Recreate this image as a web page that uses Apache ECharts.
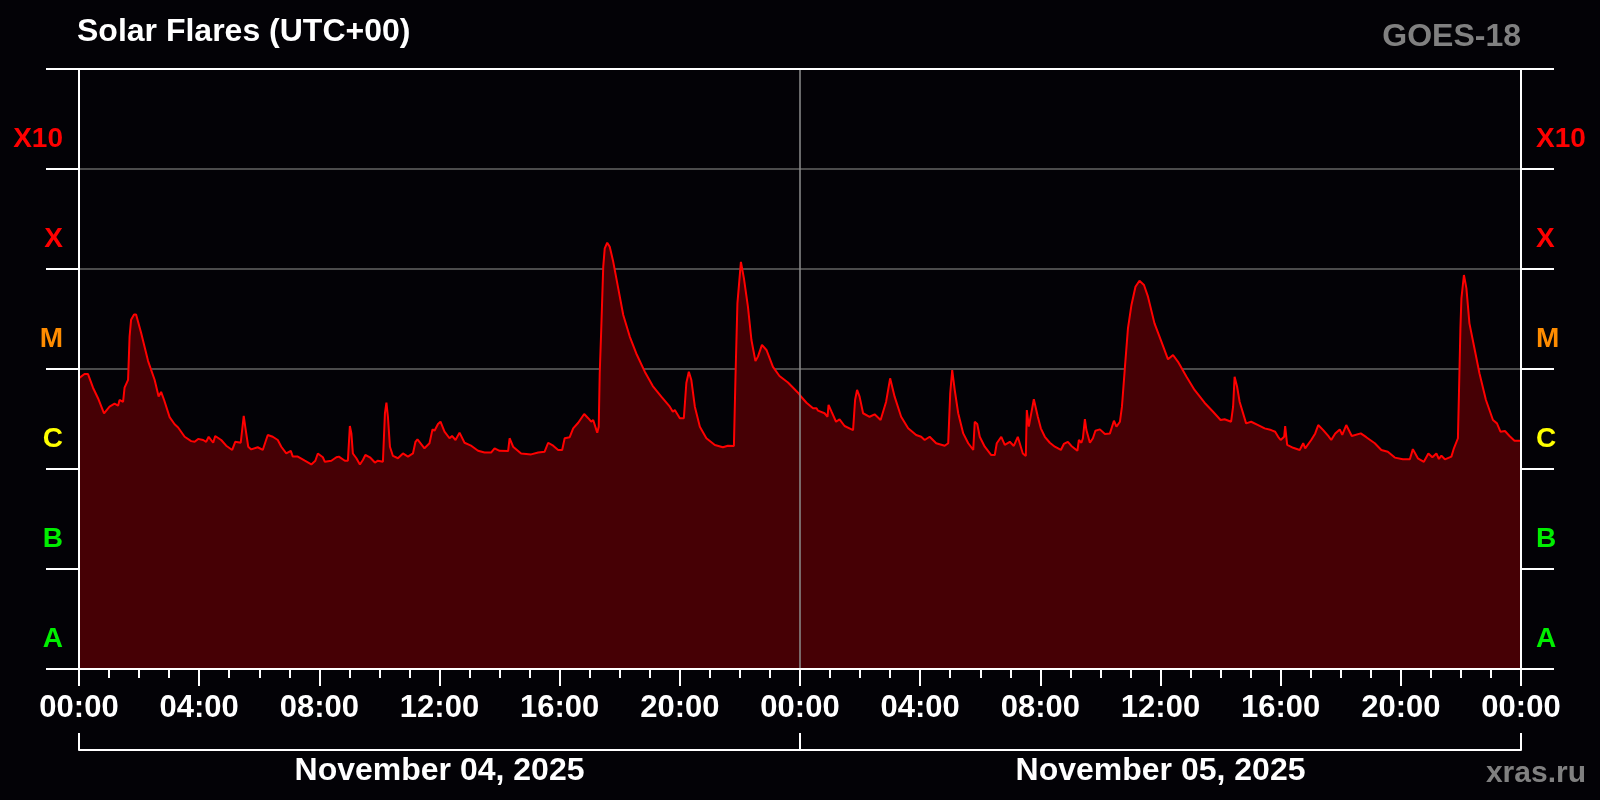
<!DOCTYPE html>
<html>
<head>
<meta charset="utf-8">
<title>Solar Flares</title>
<script src="https://cdn.jsdelivr.net/npm/echarts@6/dist/echarts.min.js"></script>
<style>
html,body{margin:0;padding:0;background:#030206;}
#chart{width:1600px;height:800px;}
</style>
</head>
<body>
<div id="chart"></div>
<script>
// minutes since 2025-11-04 00:00 UTC
const minutes = [0,11,18,28,38,50,61,71,78,81,88,91,98,101,104,110,114,124,138,151,159,164,170,181,191,198,201,211,224,231,238,248,254,259,268,272,284,294,306,312,323,329,332,338,344,357,367,377,387,397,404,414,423,427,437,451,464,472,477,487,491,504,514,519,531,537,541,544,547,554,561,567,572,581,591,597,607,611,614,617,621,627,637,647,657,667,672,676,690,700,706,710,717,722,730,740,745,752,760,770,784,797,810,823,830,840,857,860,867,883,903,917,930,937,947,957,965,970,980,987,997,1009,1017,1023,1027,1035,1038,1040,1043,1047,1050,1055,1060,1067,1077,1087,1100,1113,1130,1146,1163,1180,1186,1190,1200,1208,1213,1218,1223,1230,1240,1253,1270,1286,1296,1308,1311,1315,1322,1328,1336,1343,1351,1356,1364,1373,1386,1399,1416,1436,1441,1453,1466,1473,1476,1489,1495,1497,1503,1512,1519,1529,1546,1550,1554,1559,1566,1579,1589,1601,1612,1620,1629,1642,1656,1672,1682,1684,1689,1699,1712,1729,1736,1740,1744,1749,1756,1766,1776,1786,1789,1794,1799,1809,1822,1829,1833,1842,1849,1859,1867,1875,1885,1891,1893,1897,1907,1915,1921,1929,1939,1949,1961,1967,1975,1982,1994,1997,2002,2005,2009,2012,2019,2025,2030,2039,2049,2059,2062,2067,2072,2079,2083,2089,2095,2102,2110,2118,2127,2135,2148,2162,2175,2185,2195,2212,2228,2248,2265,2280,2288,2301,2305,2308,2313,2318,2321,2331,2341,2355,2368,2381,2389,2395,2400,2407,2409,2413,2425,2438,2445,2449,2461,2469,2475,2485,2495,2501,2509,2518,2523,2531,2542,2560,2571,2588,2601,2614,2628,2644,2658,2664,2674,2686,2695,2703,2711,2716,2721,2728,2741,2746,2754,2756,2759,2761,2766,2771,2777,2787,2797,2810,2824,2832,2839,2848,2857,2867,2876,2880];
// X-ray flux, W/m^2
const flux = [8.1e-6,8.9e-6,8.9e-6,6.5e-6,5.1e-6,3.6e-6,4.2e-6,4.5e-6,4.3e-6,4.9e-6,4.7e-6,6.5e-6,7.8e-6,2.1e-5,3.1e-5,3.5e-5,3.5e-5,2.3e-5,1.2e-5,7.8e-6,5.3e-6,5.9e-6,4.9e-6,3.3e-6,2.8e-6,2.6e-6,2.7e-6,2.1e-6,1.9e-6,1.87e-6,2.0e-6,1.95e-6,1.87e-6,2.1e-6,1.83e-6,2.14e-6,1.95e-6,1.71e-6,1.55e-6,1.87e-6,1.83e-6,3.4e-6,2.65e-6,1.67e-6,1.57e-6,1.65e-6,1.55e-6,2.19e-6,2.1e-6,1.95e-6,1.67e-6,1.43e-6,1.52e-6,1.33e-6,1.33e-6,1.21e-6,1.11e-6,1.21e-6,1.43e-6,1.31e-6,1.18e-6,1.21e-6,1.31e-6,1.33e-6,1.21e-6,1.21e-6,2.69e-6,2.27e-6,1.43e-6,1.28e-6,1.11e-6,1.23e-6,1.38e-6,1.31e-6,1.16e-6,1.21e-6,1.18e-6,3.61e-6,4.6e-6,3.33e-6,1.67e-6,1.35e-6,1.28e-6,1.43e-6,1.33e-6,1.43e-6,1.87e-6,1.98e-6,1.61e-6,1.81e-6,2.49e-6,2.41e-6,2.82e-6,2.97e-6,2.36e-6,2.03e-6,2.14e-6,1.95e-6,2.31e-6,1.83e-6,1.7e-6,1.52e-6,1.46e-6,1.46e-6,1.61e-6,1.52e-6,1.51e-6,2.03e-6,1.67e-6,1.43e-6,1.4e-6,1.46e-6,1.49e-6,1.83e-6,1.71e-6,1.55e-6,1.55e-6,2.03e-6,2.08e-6,2.55e-6,2.9e-6,3.55e-6,3.22e-6,2.97e-6,3.09e-6,2.31e-6,2.65e-6,9.06e-6,2.45e-5,1.05e-4,1.61e-4,1.83e-4,1.67e-4,1.18e-4,6.41e-5,3.47e-5,2.11e-5,1.43e-5,9.4e-6,6.76e-6,5.29e-6,4.2e-6,3.74e-6,3.89e-6,3.22e-6,3.22e-6,7.24e-6,9.4e-6,7.76e-6,4.2e-6,2.65e-6,2.03e-6,1.74e-6,1.65e-6,1.71e-6,1.7e-6,7.76e-6,4.54e-5,1.18e-4,8.07e-5,4.2e-5,1.95e-5,1.2e-5,1.33e-5,1.74e-5,1.55e-5,1.05e-5,8.51e-6,7.34e-6,5.79e-6,5.37e-6,4.6e-6,4.05e-6,4.05e-6,3.83e-6,3.61e-6,3.33e-6,4.37e-6,3.74e-6,2.97e-6,3.14e-6,2.69e-6,2.45e-6,4.9e-6,6.17e-6,5.29e-6,3.61e-6,3.33e-6,3.52e-6,3.09e-6,4.71e-6,8.07e-6,5.29e-6,3.33e-6,2.55e-6,2.19e-6,2.1e-6,2.19e-6,1.95e-6,2.1e-6,1.81e-6,1.71e-6,1.81e-6,5.71e-6,9.77e-6,6.17e-6,3.61e-6,2.27e-6,1.81e-6,1.55e-6,2.97e-6,2.82e-6,2.1e-6,1.67e-6,1.38e-6,1.38e-6,1.81e-6,2.1e-6,1.74e-6,1.87e-6,1.7e-6,2.1e-6,1.43e-6,1.35e-6,3.89e-6,2.65e-6,4.98e-6,3.33e-6,2.55e-6,2.1e-6,1.83e-6,1.67e-6,1.55e-6,1.78e-6,1.87e-6,1.7e-6,1.52e-6,1.95e-6,1.83e-6,2.03e-6,3.16e-6,2.45e-6,1.83e-6,2.03e-6,2.41e-6,2.49e-6,2.24e-6,2.27e-6,2.21e-6,3.04e-6,2.65e-6,2.97e-6,4.2e-6,1.05e-5,2.55e-5,4.37e-5,6.65e-5,7.64e-5,6.92e-5,5.29e-5,2.86e-5,1.87e-5,1.25e-5,1.38e-5,1.18e-5,8.37e-6,6.17e-6,4.6e-6,3.74e-6,3.09e-6,3.14e-6,2.97e-6,4.2e-6,8.37e-6,6.65e-6,4.71e-6,4.9e-6,2.86e-6,2.97e-6,2.75e-6,2.55e-6,2.45e-6,2.36e-6,2.1e-6,1.95e-6,2.1e-6,2.69e-6,1.74e-6,1.63e-6,1.55e-6,1.81e-6,1.61e-6,1.95e-6,2.27e-6,2.75e-6,2.45e-6,2.14e-6,1.95e-6,2.27e-6,2.49e-6,2.19e-6,2.75e-6,2.14e-6,2.27e-6,2.08e-6,1.81e-6,1.55e-6,1.49e-6,1.3e-6,1.25e-6,1.25e-6,1.58e-6,1.28e-6,1.18e-6,1.43e-6,1.31e-6,1.43e-6,1.26e-6,1.36e-6,1.25e-6,1.33e-6,1.61e-6,2.03e-6,5.5e-6,2.55e-5,5.09e-5,8.71e-5,6.41e-5,2.86e-5,1.61e-5,9.06e-6,4.9e-6,3.09e-6,2.86e-6,2.36e-6,2.4e-6,2.14e-6,1.92e-6,1.92e-6,1.92e-6];

const flareClasses = ['A','B','C','M','X','X10'];
const classColors = ['#00ee00','#00ee00','#ffff00','#ff8c00','#ff0000','#ff0000'];
const timeTickLabels = ['00:00','04:00','08:00','12:00','16:00','20:00','00:00','04:00','08:00','12:00','16:00','20:00','00:00'];
const dayLabels = ['November 04, 2025','November 05, 2025'];
const dayBoundary = 1440;

const FONT = 'Liberation Sans, Arial, Helvetica, sans-serif';
const seriesData = minutes.map((m, i) => [m, flux[i]]);

const chart = echarts.init(document.getElementById('chart'), null, {renderer: 'canvas'});

function classAxis(pos, margin) {
  return {
    type: 'category', position: pos, data: flareClasses, boundaryGap: true, z: 5,
    axisLine: {show: true, onZero: false, lineStyle: {color: '#ffffff', width: 2}},
    axisTick: {show: true, interval: 0, length: 33, lineStyle: {color: '#ffffff', width: 2}},
    axisLabel: {
      interval: 0, margin: margin, fontSize: 28, fontWeight: 'bold', fontFamily: FONT,
      verticalAlign: 'top', lineHeight: 40,
      color: function (v, i) { return classColors[flareClasses.indexOf(v)]; }
    },
    splitLine: {show: false}
  };
}

const option = {
  backgroundColor: '#030206',
  animation: false,
  textStyle: {fontFamily: FONT},
  title: [
    {text: 'Solar Flares (UTC+00)', left: 77, top: 16, padding: 0,
     textStyle: {color: '#ffffff', fontSize: 32, fontWeight: 'bold', fontFamily: FONT}},
    {text: 'GOES-18', right: 79, top: 21, padding: 0,
     textStyle: {color: '#808080', fontSize: 32, fontWeight: 'bold', fontFamily: FONT}},
    {text: 'xras.ru', right: 14, top: 759, padding: 0,
     textStyle: {color: '#808080', fontSize: 30, fontWeight: 'bold', fontFamily: FONT}}
  ],
  grid: {left: 79, right: 79, top: 69, bottom: 131, containLabel: false, outerBoundsMode: 'none'},
  xAxis: [
    {
      type: 'value', position: 'bottom', min: 0, max: 2880, interval: 240, z: 5,
      axisLine: {show: true, onZero: false, lineStyle: {color: '#ffffff', width: 2}},
      axisTick: {show: true, length: 17, lineStyle: {color: '#ffffff', width: 2}},
      minorTick: {show: true, splitNumber: 4, length: 9, lineStyle: {color: '#ffffff', width: 2}},
      splitLine: {show: false}, minorSplitLine: {show: false},
      axisLabel: {
        color: '#ffffff', fontSize: 31, fontWeight: 'bold', fontFamily: FONT, margin: 24,
        showMinLabel: true, showMaxLabel: true, hideOverlap: false,
        formatter: function (v) { return timeTickLabels[Math.round(v / 240)]; }
      }
    },
    {
      type: 'value', position: 'top', min: 0, max: 2880, z: 5,
      axisLine: {show: true, onZero: false, lineStyle: {color: '#ffffff', width: 2}},
      axisTick: {show: false}, axisLabel: {show: false}, splitLine: {show: false}
    },
    {
      type: 'category', position: 'bottom', offset: 81, data: dayLabels, boundaryGap: true, z: 5,
      axisLine: {show: true, onZero: false, lineStyle: {color: '#ffffff', width: 2}},
      axisTick: {show: true, inside: true, interval: 0, length: 17, lineStyle: {color: '#ffffff', width: 2}},
      axisLabel: {interval: 0, color: '#ffffff', fontSize: 32, fontWeight: 'bold', fontFamily: FONT, margin: 5},
      splitLine: {show: false}
    }
  ],
  yAxis: [
    {
      type: 'log', logBase: 10, position: 'left', min: 1e-8, max: 1e-2, z: 0,
      axisLine: {show: false}, axisTick: {show: false}, axisLabel: {show: false},
      splitLine: {show: true, lineStyle: {color: '#4b4b4b', width: 2}}
    },
    classAxis('left', 16),
    classAxis('right', 15)
  ],
  series: [{
    type: 'line', xAxisIndex: 0, yAxisIndex: 0,
    data: seriesData, showSymbol: false, symbol: 'none', z: 2,
    lineStyle: {color: '#ff0000', width: 2},
    areaStyle: {color: '#460005', opacity: 1, origin: 'start'},
    markLine: {
      silent: true, symbol: 'none', animation: false,
      label: {show: false},
      lineStyle: {color: '#8c8c8c', width: 1.5, type: 'solid'},
      data: [{xAxis: dayBoundary}]
    }
  }]
};

chart.setOption(option);
</script>
</body>
</html>
